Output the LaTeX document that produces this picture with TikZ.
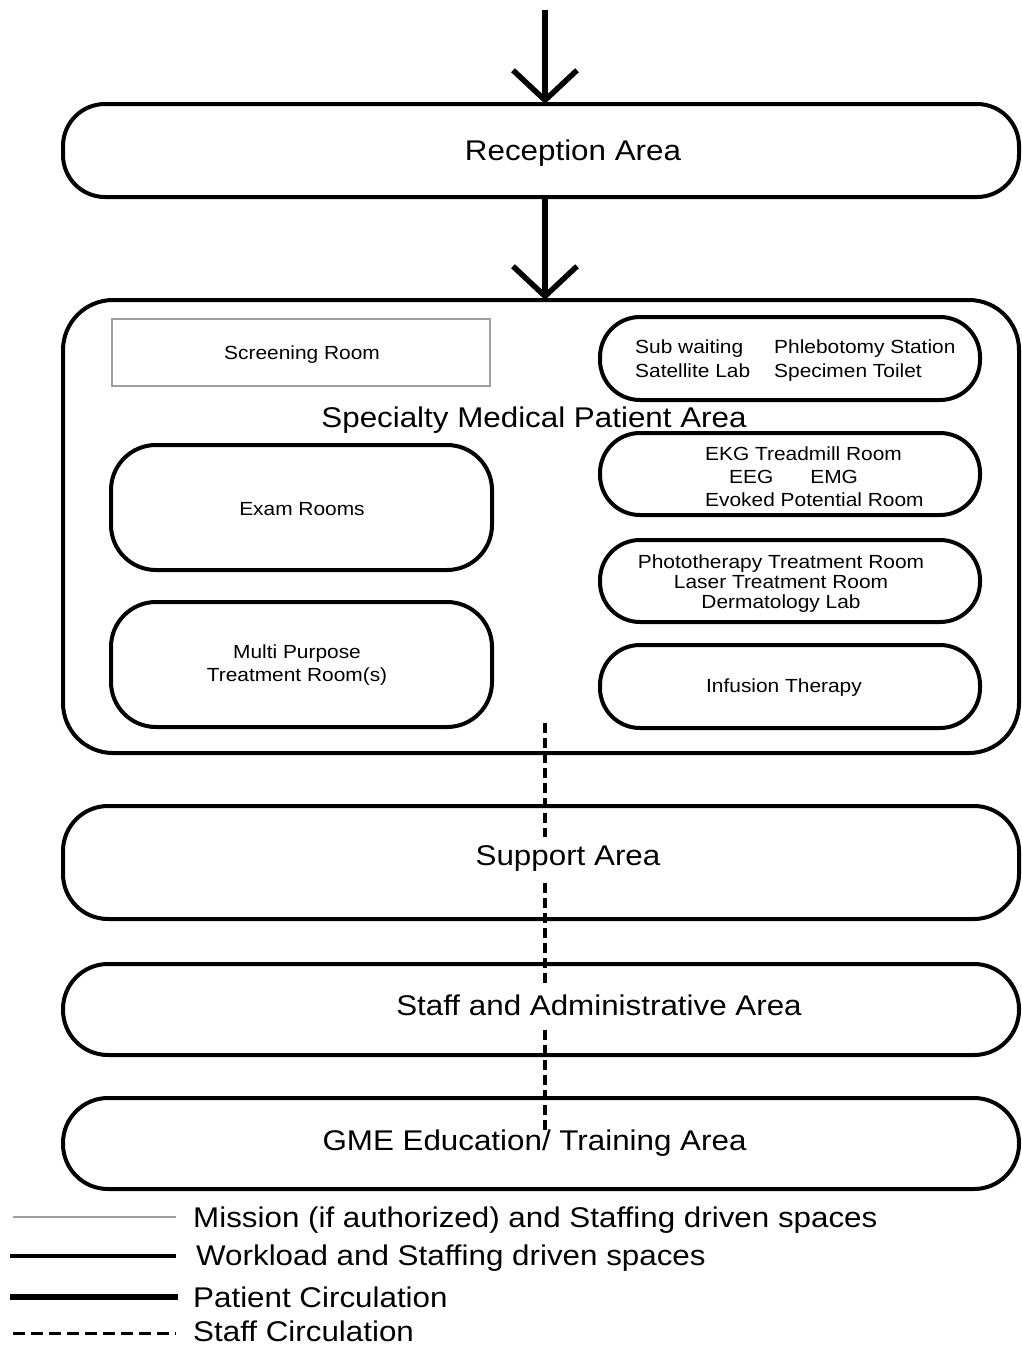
\documentclass[tikz,border=0pt]{standalone}
\usepackage{fontspec}
\setmainfont{Liberation Sans}[FakeStretch=1.1]
\usetikzlibrary{arrows.meta}
\begin{document}
\begin{tikzpicture}[x=1pt,y=-1pt,
  zone/.style={draw=black, line width=4pt, rounded corners=#1, inner sep=0pt, outer sep=0pt, fill=none},
  zone/.default=45pt,
  mission/.style={draw=gray!75, line width=1.5pt},
  workload/.style={draw=black, line width=4pt},
  patient/.style={draw=black, line width=5.5pt, -{Straight Barb[length=30pt,width=64pt]}},
  patientline/.style={draw=black, line width=6.5pt},
  staffc/.style={draw=black, line width=3.5pt, dash pattern=on 10pt off 5pt},
  staffleg/.style={draw=black, line width=3pt, dash pattern=on 12pt off 6pt},
  big/.style={font=\fontsize{28.5}{34}\selectfont, inner sep=0pt, text height=20.5pt, text depth=0pt},
  small/.style={font=\fontsize{19}{23}\selectfont, inner sep=0pt},
]
\useasboundingbox[fill=white] (0,0) rectangle (1021,1347);

% axis coordinates
\coordinate (axisTop) at (545,10);

% main zones
\node[zone=42pt, minimum width=956pt, minimum height=93pt] (reception) at (541,150.5) {};
\node[zone=50pt, minimum width=956pt, minimum height=453pt] (specialty) at (541,526.5) {};
\node[zone, minimum width=956pt, minimum height=113pt] (support) at (541,862.5) {};
\node[zone, minimum width=956pt, minimum height=91pt] (staff) at (541,1009.5) {};
\node[zone, minimum width=956pt, minimum height=91pt] (gme) at (541,1143.5) {};

% inner rooms
\node[mission, minimum width=378pt, minimum height=67pt] (screening) at (301,352.5) {};
\node[zone, minimum width=381pt, minimum height=125pt] (exam) at (301.5,507.5) {};
\node[zone, minimum width=381pt, minimum height=125pt] (multi) at (301.5,664.5) {};
\node[zone=40pt, minimum width=380pt, minimum height=83pt] (sub) at (790,358.5) {};
\node[zone=40pt, minimum width=380pt, minimum height=82pt] (ekg) at (790,474) {};
\node[zone=40pt, minimum width=380pt, minimum height=82pt] (photo) at (790,581) {};
\node[zone=40pt, minimum width=380pt, minimum height=83pt] (infusion) at (790,686.5) {};

% texts
\node[big] (receptionT) at (573,150) {Reception Area};
\node[big] (specialtyT) at (534,417) {Specialty Medical Patient Area};
\node[big] (supportT) at (568,855) {Support Area};
\node[big] (staffT) at (599,1005) {Staff and Administrative Area};
\node[big] (gmeT) at (534.5,1140) {GME Education/ Training Area};

\node[small] (screeningT) at (302,355) {Screening Room};
\node[small] (examT) at (302,509) {Exam Rooms};
\node[small, align=center] (multiT) at (297,665.5) {Multi Purpose\\Treatment Room(s)};
\node[small, anchor=west] (subT) at (635,361) {\begin{tabular}{@{}l@{\hspace{24pt}}l@{}}Sub waiting & Phlebotomy Station\\[1pt] Satellite Lab & Specimen Toilet\end{tabular}};
\node[small, align=left, anchor=west] (ekgT) at (705,476.5) {EKG Treadmill Room\\\hspace*{24pt}EEG\hspace{37pt}EMG\\Evoked Potential Room};
\node[small, align=center, font=\fontsize{19}{20}\selectfont] (photoT) at (781,584) {Phototherapy Treatment Room\\Laser Treatment Room\\Dermatology Lab};
\node[small] (infusionT) at (784,688) {Infusion Therapy};

% patient circulation
\draw[patient] (axisTop) -- (reception.north -| axisTop);
\draw[patient] (reception.south -| axisTop) -- (specialty.north -| axisTop);

% staff circulation
\coordinate (d0) at (545,723);
\coordinate (d1) at (545,837);
\coordinate (d2) at (545,883);
\coordinate (d3) at (545,983);
\coordinate (d4) at (545,1030);
\coordinate (d5) at (545,1130);
\draw[staffc] (d0) -- (d1);
\draw[staffc] (d2) -- (d3);
\draw[staffc] (d4) -- (d5);

% legend
\coordinate (la1) at (13,1217); \coordinate (la2) at (176,1217);
\coordinate (lb1) at (10,1256); \coordinate (lb2) at (176,1256);
\coordinate (lc1) at (10,1297); \coordinate (lc2) at (178,1297);
\coordinate (ld1) at (13,1333); \coordinate (ld2) at (176,1333);
\draw[mission] (la1) -- (la2);
\draw[workload] (lb1) -- (lb2);
\draw[patientline] (lc1) -- (lc2);
\draw[staffleg] (ld1) -- (ld2);
\node[big, anchor=west] (legA) at (193,1217) {Mission (if authorized) and Staffing driven spaces};
\node[big, anchor=west] (legB) at (196,1255) {Workload and Staffing driven spaces};
\node[big, anchor=west] (legC) at (193,1297) {Patient Circulation};
\node[big, anchor=west] (legD) at (193,1331) {Staff Circulation};
\end{tikzpicture}
\end{document}
